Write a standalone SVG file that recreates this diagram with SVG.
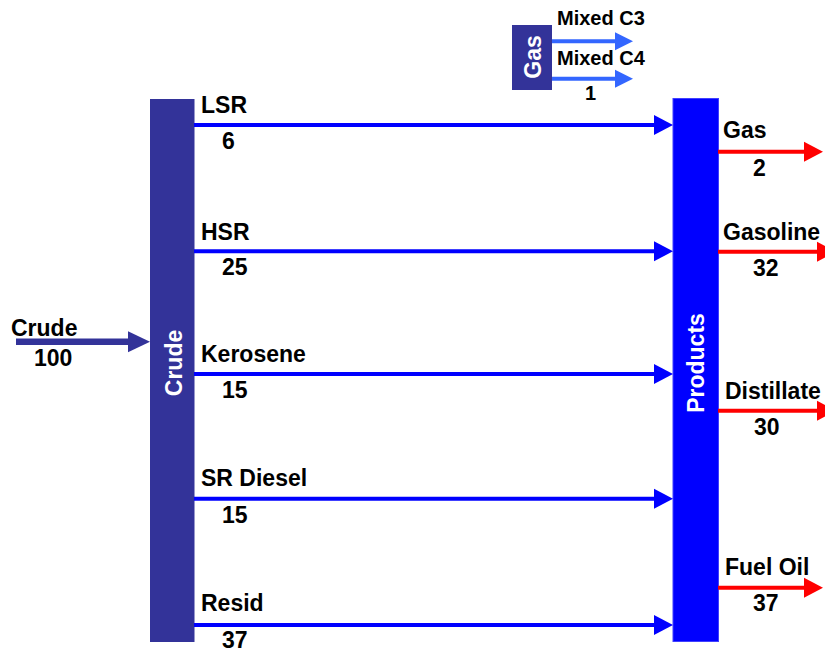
<svg xmlns="http://www.w3.org/2000/svg" width="825" height="652" viewBox="0 0 825 652">
<style>
text{font-family:"Liberation Sans",Arial,sans-serif;font-weight:bold;fill:#000}
.lbl{font-size:23px}
.sm{font-size:20px}
.wt{fill:#fff;font-size:23px;text-anchor:middle}
.blue{stroke:#0000FF;stroke-width:4;fill:none}
.red{stroke:#FF0000;stroke-width:4;fill:none}
.lb{stroke:#3366FF;stroke-width:4;fill:none}
.crude{stroke:#333399;stroke-width:6.5;fill:none}
</style>
<defs>
<marker id="hb" markerUnits="userSpaceOnUse" viewBox="0 -10 19 20" markerWidth="19" markerHeight="20" refX="0" refY="0" orient="auto" overflow="visible"><path d="M0,-10L19,0L0,10z" fill="#0000FF"/></marker>
<marker id="hr" markerUnits="userSpaceOnUse" viewBox="0 -10 19 20" markerWidth="19" markerHeight="20" refX="0" refY="0" orient="auto" overflow="visible"><path d="M0,-10L19,0L0,10z" fill="#FF0000"/></marker>
<marker id="hl" markerUnits="userSpaceOnUse" viewBox="0 -9 18 18" markerWidth="18" markerHeight="18" refX="0" refY="0" orient="auto" overflow="visible"><path d="M0,-9L18,0L0,9z" fill="#3366FF"/></marker>
<marker id="hc" markerUnits="userSpaceOnUse" viewBox="0 -10.5 22 21" markerWidth="22" markerHeight="21" refX="0" refY="0" orient="auto" overflow="visible"><path d="M0,-10.5L22,0L0,10.5z" fill="#333399"/></marker>
</defs>

<g id="crude-node">
<rect x="150" y="99" width="44.5" height="543" fill="#333399"/>
<text class="wt" transform="translate(181.5,363) rotate(-90)">Crude</text>
</g>
<g id="products-node">
<rect x="673" y="98.5" width="45.5" height="543" fill="#0000FF" stroke="#4040FF" stroke-width="1"/>
<text class="wt" transform="translate(703.5,363) rotate(-90)">Products</text>
</g>
<g id="gas-node">
<rect x="512" y="25" width="40" height="65" fill="#333399"/>
<text class="wt" transform="translate(541,57) rotate(-90)">Gas</text>
</g>

<g id="connectors">
<line class="crude" x1="16" y1="341.7" x2="128" y2="341.7" marker-end="url(#hc)"/>
<line class="blue" x1="194" y1="125" x2="654" y2="125" marker-end="url(#hb)"/>
<line class="blue" x1="194" y1="251.3" x2="654" y2="251.3" marker-end="url(#hb)"/>
<line class="blue" x1="194" y1="374" x2="654" y2="374" marker-end="url(#hb)"/>
<line class="blue" x1="194" y1="498.7" x2="654" y2="498.7" marker-end="url(#hb)"/>
<line class="blue" x1="194" y1="625" x2="654" y2="625" marker-end="url(#hb)"/>
<line class="red" x1="718" y1="151.7" x2="804" y2="151.7" marker-end="url(#hr)"/>
<line class="red" x1="718" y1="251.7" x2="817" y2="251.7" marker-end="url(#hr)"/>
<line class="red" x1="718" y1="410.8" x2="817" y2="410.8" marker-end="url(#hr)"/>
<line class="red" x1="718" y1="587.7" x2="804" y2="587.7" marker-end="url(#hr)"/>
<line class="lb" x1="552" y1="41.3" x2="615" y2="41.3" marker-end="url(#hl)"/>
<line class="lb" x1="552" y1="78.7" x2="615" y2="78.7" marker-end="url(#hl)"/>
</g>

<g id="labels">
<text class="lbl" x="11" y="336">Crude</text>
<text class="lbl" x="34" y="366">100</text>
<text class="lbl" x="201" y="113">LSR</text>
<text class="lbl" x="222" y="149">6</text>
<text class="lbl" x="201" y="240">HSR</text>
<text class="lbl" x="222" y="275">25</text>
<text class="lbl" x="201" y="362">Kerosene</text>
<text class="lbl" x="222" y="398">15</text>
<text class="lbl" x="201" y="486">SR Diesel</text>
<text class="lbl" x="222" y="523">15</text>
<text class="lbl" x="201" y="611">Resid</text>
<text class="lbl" x="222" y="648">37</text>
<text class="lbl" x="723" y="138">Gas</text>
<text class="lbl" x="753" y="176">2</text>
<text class="lbl" x="723" y="240">Gasoline</text>
<text class="lbl" x="753" y="276">32</text>
<text class="lbl" x="725" y="399">Distillate</text>
<text class="lbl" x="754" y="435">30</text>
<text class="lbl" x="725" y="575">Fuel Oil</text>
<text class="lbl" x="753" y="611">37</text>
<text class="sm" x="557" y="25">Mixed C3</text>
<text class="sm" x="557" y="65">Mixed C4</text>
<text class="sm" x="585" y="100">1</text>
</g>
</svg>
